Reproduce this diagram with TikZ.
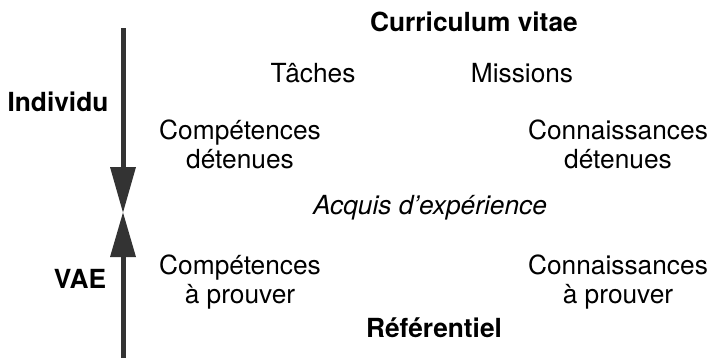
\documentclass[tikz,border=0pt]{standalone}
\usepackage{fontspec}
\setmainfont{TeX Gyre Heros}
\begin{document}
\begin{tikzpicture}[x=1pt,y=-1pt,
  lbl/.style={inner sep=0pt,outer sep=0pt,anchor=base,font=\fontsize{26.3}{29}\selectfont},
  bl/.style={lbl,font=\fontsize{26.3}{29}\selectfont\bfseries},
  two/.style={lbl,align=center},
  axis/.style={line width=5pt,draw=black!80},
  head/.style={fill=black!80,draw=none}]
\useasboundingbox (0,0) rectangle (711,360);
\node[bl] (cv) at (474,31) {Curriculum vitae};
\node[lbl] (taches) at (313,82) {Tâches};
\node[lbl] (missions) at (522,82) {Missions};
\node[bl] (indiv) at (58,111) {Individu};
\node[two] (compd) at (240,168) {Compétences\\détenues};
\node[two] (connd) at (618,168) {Connaissances\\détenues};
\node[lbl,font=\fontsize{26.3}{29}\selectfont\itshape] (acquis) at (430,214) {Acquis d’expérience};
\node[bl] (vae) at (80,288) {VAE};
\node[two] (compp) at (240,303) {Compétences\\à prouver};
\node[two] (connp) at (618,303) {Connaissances\\à prouver};
\node[bl] (ref) at (434,337) {Référentiel};
\coordinate (top) at (123,28);
\coordinate (bot) at (123,358);
\coordinate (mid) at (123,212.5);
\coordinate (dbase) at (123,167);
\coordinate (ubase) at (123,257);
\draw[axis] (top) -- (dbase);
\draw[axis] (ubase) -- (bot);
\fill[head] ([xshift=-13pt]dbase) -- ([xshift=13pt]dbase) -- (mid) -- cycle;
\fill[head] ([xshift=-13pt]ubase) -- ([xshift=13pt]ubase) -- (mid) -- cycle;
\end{tikzpicture}
\end{document}
